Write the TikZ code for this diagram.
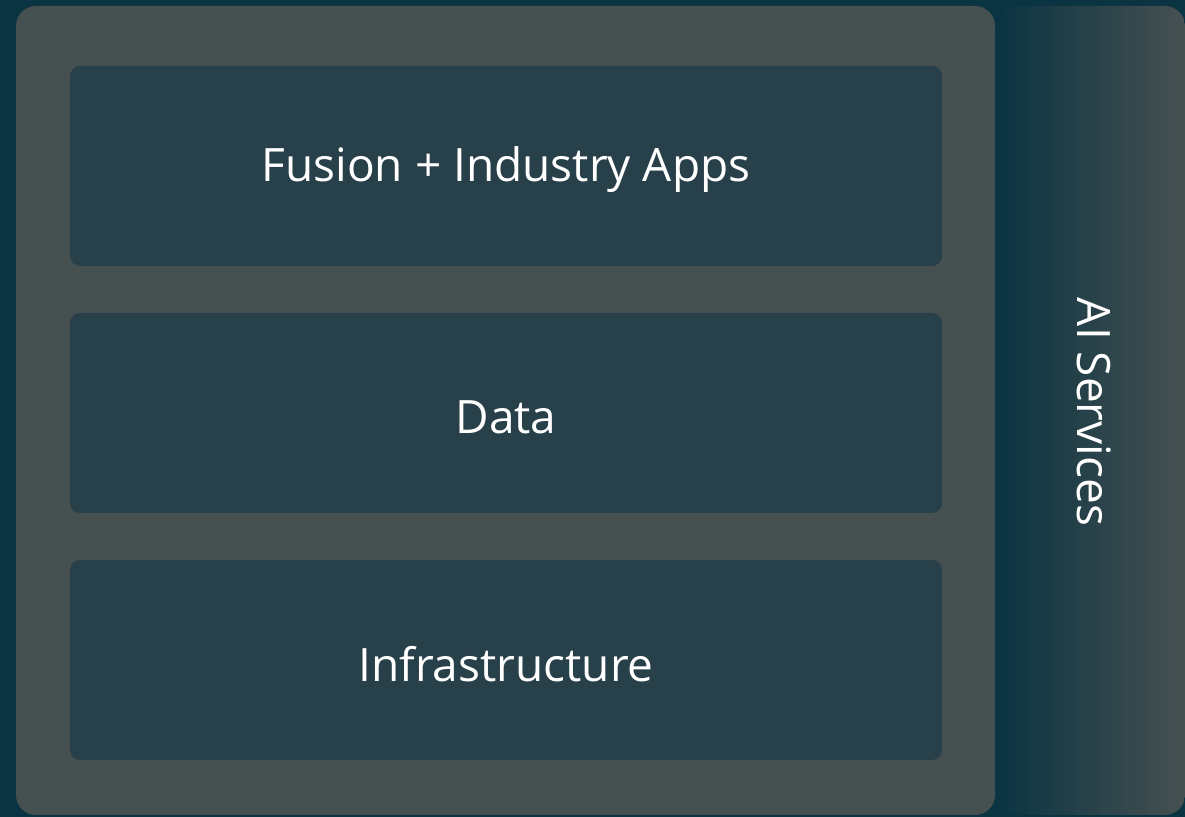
\documentclass[tikz,border=0pt]{standalone}
\usepackage{fontspec}
\setmainfont{Open Sans}
\usepackage{tikz}
\definecolor{bgteal}{HTML}{0A3442}
\definecolor{panelgrey}{HTML}{465051}
\definecolor{layerblue}{HTML}{27404A}
\tikzstyle{panel}=[rectangle,fill=panelgrey,rounded corners=10pt,
                   inner sep=0pt,minimum width=489.5pt,minimum height=404.5pt]
\tikzstyle{layer}=[rectangle,fill=layerblue,rounded corners=5pt,
                   inner sep=0pt,minimum width=436pt,minimum height=100pt]
\tikzstyle{sidebar}=[rectangle,left color=bgteal,right color=panelgrey,
                     rounded corners=10pt,inner sep=0pt,
                     minimum width=94pt,minimum height=404.5pt]
\tikzstyle{label}=[text=white,font=\fontsize{23}{27}\selectfont]

\begin{document}
\begin{tikzpicture}[x=0.5pt,y=-0.5pt]
    \fill[bgteal] (0,0) rectangle (1185,817);
    \useasboundingbox (0,0) rectangle (1185,817);
    \node (main) at (505.5,410.5) [panel]{};
    \node (ai) at (1091,410.5) [sidebar]{};
    \node (apps) at (506,166) [layer]{};
    \node (data) at (506,413) [layer]{};
    \node (infra) at (506,660) [layer]{};
    % labels sit a little below the box centres
    \node (appslabel) at (506,170) [label]{Fusion + Industry Apps};
    \node (datalabel) at (506,417) [label]{Data};
    \node (infralabel) at (506,664) [label]{Infrastructure};
    \node (ailabel) at (1094,412) [label,rotate=-90]{AI Services};
  \end{tikzpicture}
\end{document}
